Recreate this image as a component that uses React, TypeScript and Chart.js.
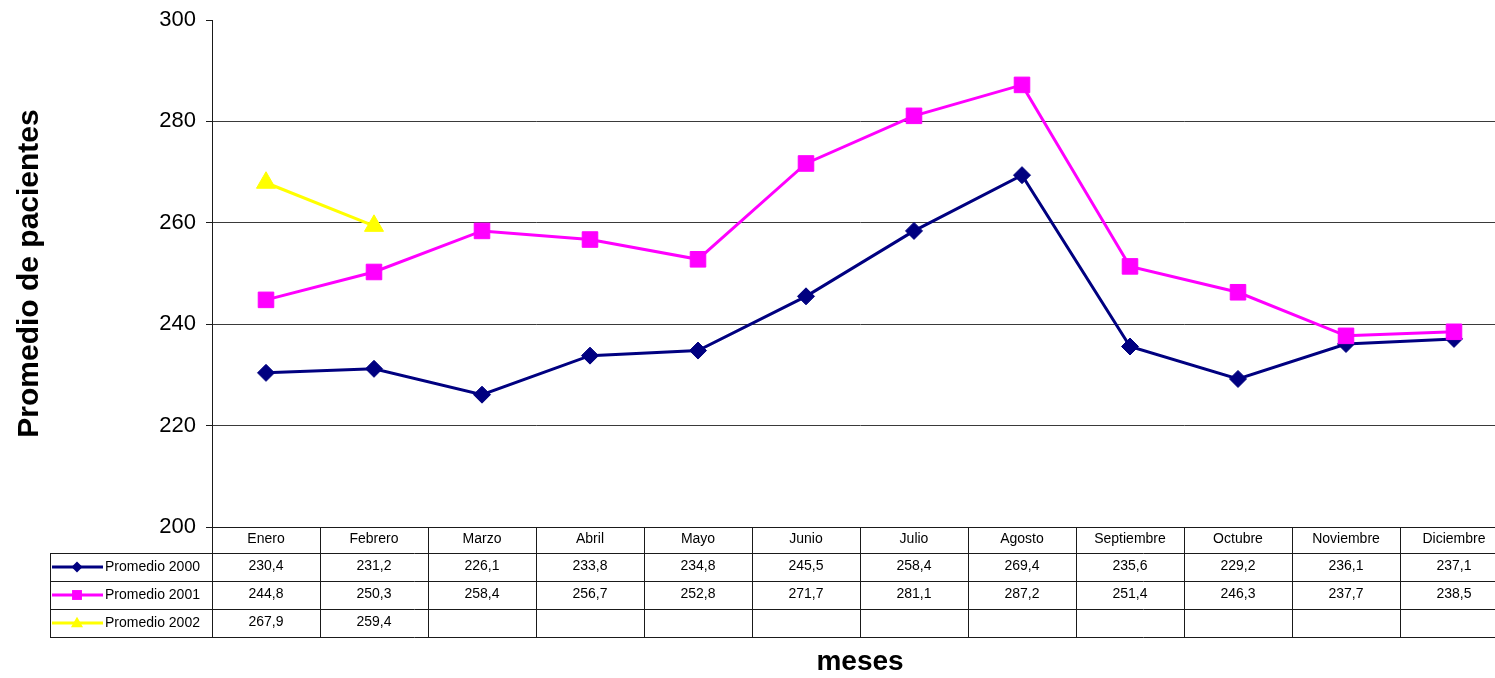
import React, { useEffect, useRef } from 'react';
import { Chart, registerables } from 'chart.js';

Chart.register(...registerables);

// Monthly categories
const months = [
  'Enero', 'Febrero', 'Marzo', 'Abril', 'Mayo', 'Junio',
  'Julio', 'Agosto', 'Septiembre', 'Octubre', 'Noviembre', 'Diciembre',
];

// Average patients per month, one array per year
const promedio2000 = [230.4, 231.2, 226.1, 233.8, 234.8, 245.5, 258.4, 269.4, 235.6, 229.2, 236.1, 237.1];
const promedio2001 = [244.8, 250.3, 258.4, 256.7, 252.8, 271.7, 281.1, 287.2, 251.4, 246.3, 237.7, 238.5];
const promedio2002 = [267.9, 259.4, null, null, null, null, null, null, null, null, null, null];

const seriesNames = ['Promedio 2000', 'Promedio 2001', 'Promedio 2002'];
const seriesValues = [promedio2000, promedio2001, promedio2002];

// Value axis
const yMin = 200;
const yMax = 300;
const yStep = 20;

const yTitle = 'Promedio de pacientes';
const xTitle = 'meses';

const FONT = "'Liberation Sans', Arial, sans-serif";

type Style = { color: string; point: 'rectRot' | 'rect' | 'triangle'; radius: number; legendRadius: number };
const styles: Style[] = [
  { color: '#000080', point: 'rectRot', radius: 8.5, legendRadius: 5.5 },
  { color: '#FF00FF', point: 'rect', radius: 11, legendRadius: 7 },
  { color: '#FFFF00', point: 'triangle', radius: 11, legendRadius: 7 },
];

function formatValue(v: number | null): string {
  if (v === null || v === undefined) return '';
  return v.toFixed(1).replace('.', ',');
}

function drawMarker(ctx: CanvasRenderingContext2D, kind: string, x: number, y: number, r: number, color: string) {
  ctx.beginPath();
  if (kind === 'rectRot') {
    ctx.moveTo(x, y - r);
    ctx.lineTo(x + r, y);
    ctx.lineTo(x, y + r);
    ctx.lineTo(x - r, y);
    ctx.closePath();
  } else if (kind === 'rect') {
    const s = r * Math.SQRT1_2;
    ctx.rect(x - s, y - s, 2 * s, 2 * s);
  } else {
    const h = r * Math.sin(Math.PI / 3);
    ctx.moveTo(x, y - r * 0.9);
    ctx.lineTo(x + h, y + r * 0.6);
    ctx.lineTo(x - h, y + r * 0.6);
    ctx.closePath();
  }
  ctx.fillStyle = color;
  ctx.fill();
}

// Draws the data table under the plot, the axis titles and the legend keys
const dataTablePlugin = {
  id: 'dataTable',
  afterDraw(chart: any) {
    const ctx: CanvasRenderingContext2D = chart.ctx;
    const area = chart.chartArea;
    const n = months.length;
    const band = (area.right - area.left) / n;
    const top = area.bottom;
    const headerH = 26;
    const rowH = 28;
    const legendLeft = 50;
    const bottom = top + headerH + rowH * seriesNames.length;
    const crisp = (v: number) => Math.round(v) + 0.5;

    ctx.save();
    ctx.strokeStyle = '#1a1a1a';
    ctx.lineWidth = 1;

    // horizontal rules
    ctx.beginPath();
    ctx.moveTo(area.left, crisp(top));
    ctx.lineTo(area.right, crisp(top));
    for (let r = 0; r <= seriesNames.length; r++) {
      const yy = crisp(top + headerH + r * rowH);
      ctx.moveTo(legendLeft, yy);
      ctx.lineTo(area.right, yy);
    }
    // vertical rules
    for (let i = 0; i <= n; i++) {
      const xx = crisp(area.left + i * band);
      ctx.moveTo(xx, top);
      ctx.lineTo(xx, bottom);
    }
    ctx.moveTo(crisp(legendLeft), top + headerH);
    ctx.lineTo(crisp(legendLeft), bottom);
    ctx.stroke();

    // header: month names
    ctx.fillStyle = '#000';
    ctx.font = `14px ${FONT}`;
    ctx.textAlign = 'center';
    ctx.textBaseline = 'middle';
    months.forEach((m, i) => {
      ctx.fillText(m, area.left + (i + 0.5) * band, top + headerH / 2 - 1);
    });

    // rows: values and legend keys
    seriesValues.forEach((vals, r) => {
      const cy = top + headerH + r * rowH + rowH / 2;
      ctx.textAlign = 'center';
      ctx.fillStyle = '#000';
      vals.forEach((v, i) => {
        const t = formatValue(v);
        if (t) ctx.fillText(t, area.left + (i + 0.5) * band, cy - 1);
      });
      const st = styles[r];
      ctx.strokeStyle = st.color;
      ctx.lineWidth = 3;
      ctx.beginPath();
      ctx.moveTo(52, cy);
      ctx.lineTo(103, cy);
      ctx.stroke();
      drawMarker(ctx, st.point, 77, cy, st.legendRadius, st.color);
      ctx.fillStyle = '#000';
      ctx.textAlign = 'left';
      ctx.fillText(seriesNames[r], 105, cy);
    });

    // axis titles
    ctx.fillStyle = '#000';
    ctx.font = `bold 30px ${FONT}`;
    ctx.textAlign = 'center';
    ctx.textBaseline = 'middle';
    ctx.save();
    ctx.translate(30, (area.top + area.bottom) / 2);
    ctx.rotate(-Math.PI / 2);
    ctx.fillText(yTitle, 0, 0);
    ctx.restore();

    ctx.font = `bold 28px ${FONT}`;
    ctx.fillText(xTitle, (area.left + area.right) / 2, 662);

    ctx.restore();
  },
};

export default function App() {
  const canvasRef = useRef<HTMLCanvasElement | null>(null);

  useEffect(() => {
    if (!canvasRef.current) return;
    const chart = new Chart(canvasRef.current, {
      type: 'line',
      data: {
        labels: months,
        datasets: seriesValues.map((vals, i) => ({
          label: seriesNames[i],
          data: vals,
          borderColor: styles[i].color,
          backgroundColor: styles[i].color,
          borderWidth: 3,
          pointStyle: styles[i].point,
          pointRadius: styles[i].radius,
          pointBorderWidth: 1,
          pointBorderColor: styles[i].color,
          pointBackgroundColor: styles[i].color,
          tension: 0,
          order: seriesValues.length - 1 - i,
        })),
      },
      options: {
        animation: false,
        responsive: false,
        maintainAspectRatio: false,
        layout: { padding: { top: 20, bottom: 151, left: 0, right: 9 } },
        plugins: {
          legend: { display: false },
          tooltip: { enabled: false },
        },
        scales: {
          x: { type: 'category', display: false, offset: true },
          y: {
            min: yMin,
            max: yMax,
            ticks: {
              stepSize: yStep,
              color: '#000',
              padding: 10,
              font: { family: FONT, size: 22 },
            },
            grid: {
              color: (c: any) => {
                const v = c.tick ? c.tick.value : null;
                if (v === yMax) return 'rgba(0,0,0,0)';
                if (v === yMin) return '#1a1a1a';
                return '#3a3a3a';
              },
              tickColor: '#1a1a1a',
              tickLength: 6,
              lineWidth: 1,
            },
            border: { color: '#1a1a1a', width: 1 },
            afterFit: (scale: any) => {
              scale.width = 212;
              scale.paddingTop = 0;
              scale.paddingBottom = 0;
            },
          },
        },
      },
      plugins: [dataTablePlugin],
    } as any);
    return () => chart.destroy();
  }, []);

  return (
    <div style={{ position: 'fixed', left: 0, top: 0, width: 1495, height: 678, overflow: 'hidden', background: '#fff' }}>
      <canvas ref={canvasRef} width={1520} height={678} style={{ display: 'block', width: 1520, height: 678 }} />
    </div>
  );
}
